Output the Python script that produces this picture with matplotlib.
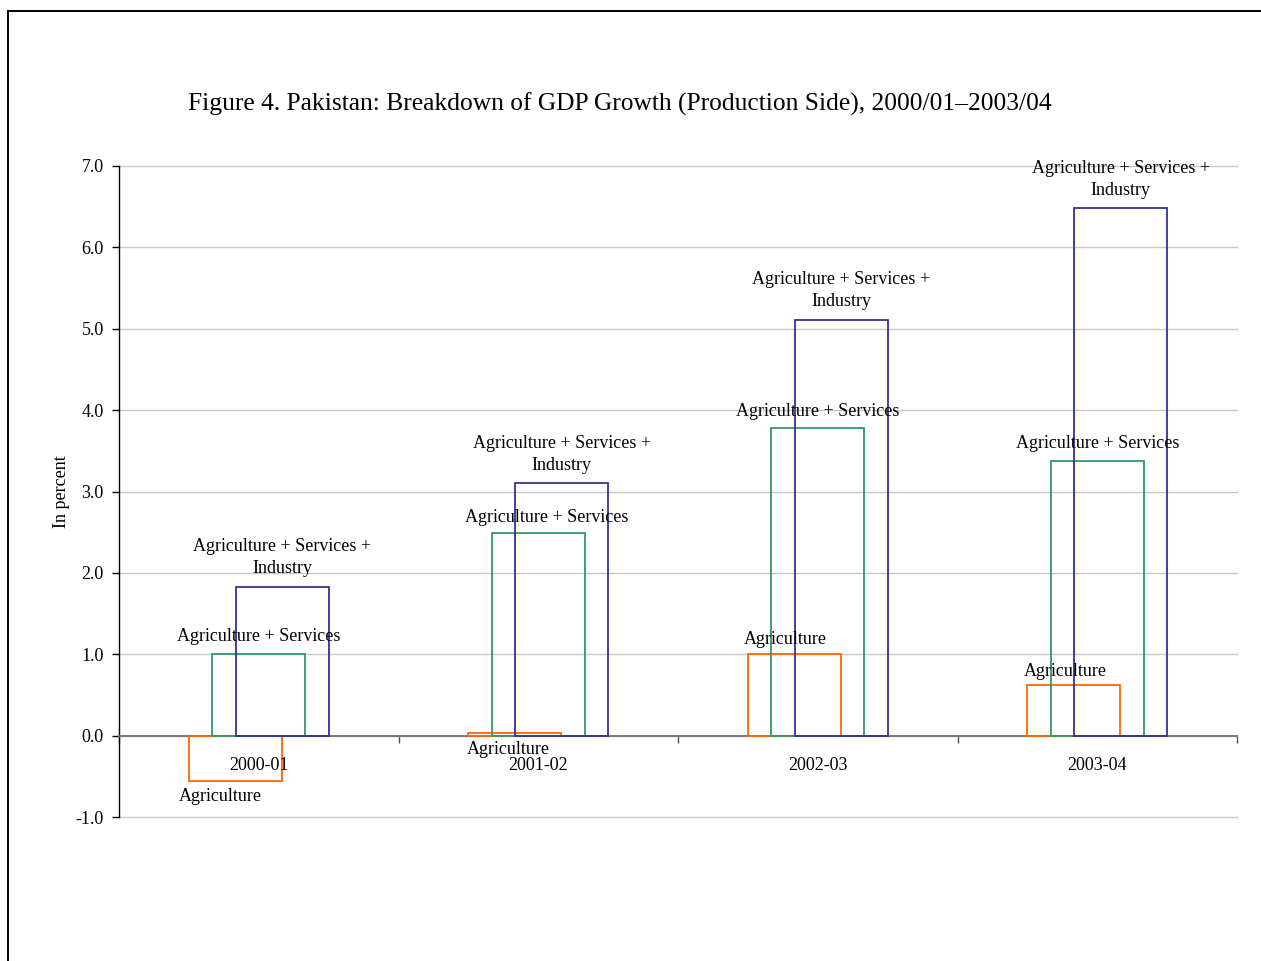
import matplotlib
matplotlib.use("Agg")
import matplotlib.pyplot as plt
from matplotlib.lines import Line2D
import numpy as np

plt.rcParams["font.family"] = ["Liberation Serif", "DejaVu Serif"]
plt.rcParams["axes.unicode_minus"] = False

# Data ---------------------------------------------------------------
years = ["2000-01", "2001-02", "2002-03", "2003-04"]
series_names = ["Agriculture", "Agriculture + Services", "Agriculture + Services +\nIndustry"]
agriculture = [-0.56, 0.03, 1.0, 0.62]
agri_services = [1.0, 2.49, 3.78, 3.38]
agri_services_industry = [1.83, 3.1, 5.11, 6.48]
y_ticks = [-1.0, 0.0, 1.0, 2.0, 3.0, 4.0, 5.0, 6.0, 7.0]
title = "Figure 4. Pakistan: Breakdown of GDP Growth (Production Side), 2000/01\u20132003/04"
y_label = "In percent"

# Layout -------------------------------------------------------------
W, H = 1261, 961
colors = ["#FF6600", "#339966", "#333399"]
bar_width = 0.333
bar_shift = 0.084
PT = 0.72  # points per pixel at 100 dpi

# label nudges (dx, dy) in pixels from the end of each bar
label_nudge = [
    [(-15, -15), (-6, -16), (-9, 15), (-8, 14)],
    [(0, 18), (8, 16), (0, 17), (0, 17)],
    [(0, 29), (0, 29), (0, 29), (0, 29)],
]

fig = plt.figure(figsize=(W / 100, H / 100), dpi=100)
ax = fig.add_axes([119 / W, 1 - 817 / H, (1237 - 119) / W, (817 - 166) / H])

x = np.arange(len(years))
all_series = [agriculture, agri_services, agri_services_industry]
for i, vals in enumerate(all_series):
    xs = x + (i - 1) * bar_shift
    ax.bar(xs, vals, width=bar_width, fill=False, edgecolor=colors[i],
           linewidth=1.3, zorder=3 + i)
    for j, v in enumerate(vals):
        dx, dy = label_nudge[i][j]
        ax.annotate(series_names[i], xy=(xs[j], v), xytext=(dx * PT, dy * PT),
                    textcoords="offset points", ha="center", va="center",
                    fontsize=13, color="black", multialignment="center",
                    linespacing=1.4, zorder=10)

ax.set_xlim(-0.5, len(years) - 0.5)
ax.set_ylim(-1.0, 7.0)
ax.set_yticks(y_ticks)
ax.set_yticklabels([f"{t:.1f}" for t in y_ticks], fontsize=13)
ax.yaxis.grid(True, color="#C8C8C8", linewidth=1.0, zorder=0)
for gl in ax.get_ygridlines():
    gl.set_clip_on(False)
ax.set_axisbelow(True)

for side in ("top", "right"):
    ax.spines[side].set_visible(False)
ax.spines["left"].set_color("black")
ax.spines["left"].set_linewidth(1.0)
ax.spines["bottom"].set_position(("data", 0))
ax.spines["bottom"].set_color("#707070")
ax.spines["bottom"].set_linewidth(1.3)
ax.spines["bottom"].set_zorder(2.5)

ax.tick_params(axis="y", direction="out", length=5, width=1, color="black", pad=6)
ax.set_xticks(np.arange(len(years) + 1) - 0.5)
ax.set_xticklabels([])
ax.tick_params(axis="x", direction="out", length=5, width=1, color="#505050")

for j, name in enumerate(years):
    ax.annotate(name, xy=(x[j], 0), xytext=(0, -30 * PT), textcoords="offset points",
                ha="center", va="center", fontsize=13)

fig.text(620 / W, 1 - 104 / H, title, ha="center", va="center", fontsize=18.4)
fig.text(61 / W, 1 - 492 / H, y_label, ha="center", va="center", rotation=90, fontsize=13)

# outer frame
fig.add_artist(Line2D([8 / W, 8 / W], [-0.1, 1 - 11 / H], transform=fig.transFigure,
                      color="black", linewidth=1.4))
fig.add_artist(Line2D([8 / W, 1.1], [1 - 11 / H, 1 - 11 / H], transform=fig.transFigure,
                      color="black", linewidth=1.4))

fig.savefig("out.png", dpi=100, facecolor="white")
